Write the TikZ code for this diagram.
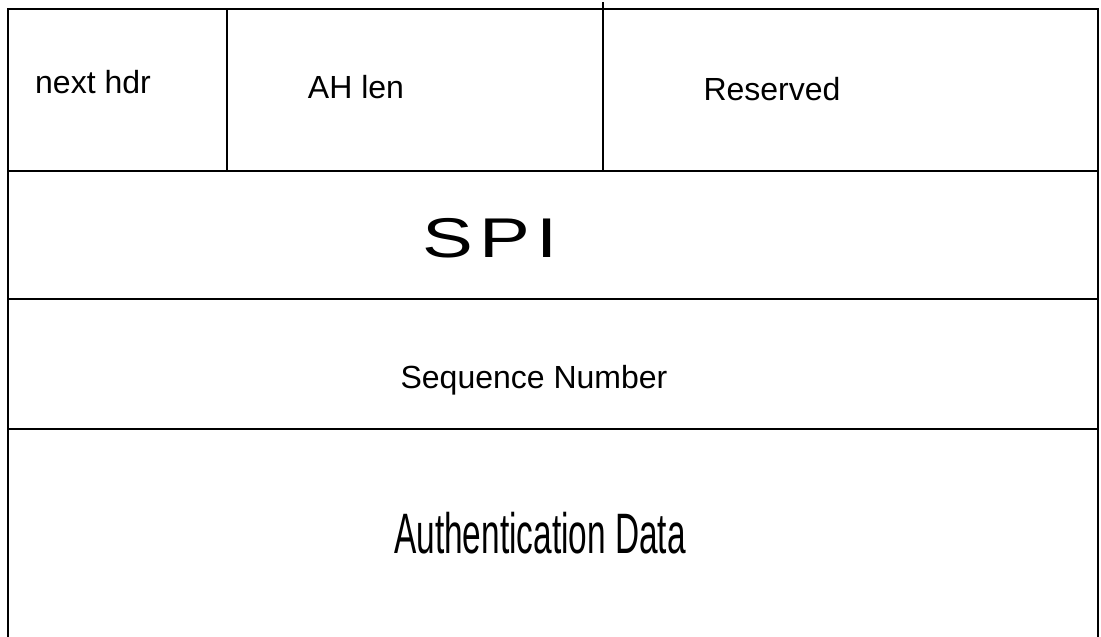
\documentclass[tikz,border=0pt]{standalone}
\usepackage{fontspec}
\setmainfont{Liberation Sans}
\usepackage{tikz}
\usetikzlibrary{positioning}

\begin{document}
\begin{tikzpicture}[x=1pt,y=-1pt,
      line width=2.6pt,
      field/.style={inner sep=0pt,anchor=base,font=\fontsize{32}{38}\selectfont},
      bigfield/.style={inner sep=0pt,anchor=base west,font=\fontsize{56}{64}\selectfont\addfontfeature{LetterSpace=8}},
      narrowfield/.style={inner sep=0pt,anchor=base,font=\fontsize{57}{66}\selectfont}]

      \useasboundingbox (0,0) rectangle (1101,637);

      % frame and rows
      \draw (8,637) -- (8,9) -- (1098,9) -- (1098,637);
      \draw (8,171) -- (1098,171);
      \draw (8,299) -- (1098,299);
      \draw (8,429) -- (1098,429);
      % first row dividers
      \draw (227,9) -- (227,171);
      \draw (603,2) -- (603,171);

      \node[field] (nexthdr) at (93,93) {next hdr};
      \node[field] (ahlen) at (356,98) {AH len};
      \node[field] (reserved) at (772,100) {Reserved};
      \node[bigfield] (spi) at (421,257) {\scalebox{1.36}[1]{SPI}};
      \node[field] (seqnum) at (534,388) {Sequence Number};
      \node[narrowfield] (authdata) at (540,553) {\scalebox{0.586}[1]{Authentication Data}};
\end{tikzpicture}
\end{document}
